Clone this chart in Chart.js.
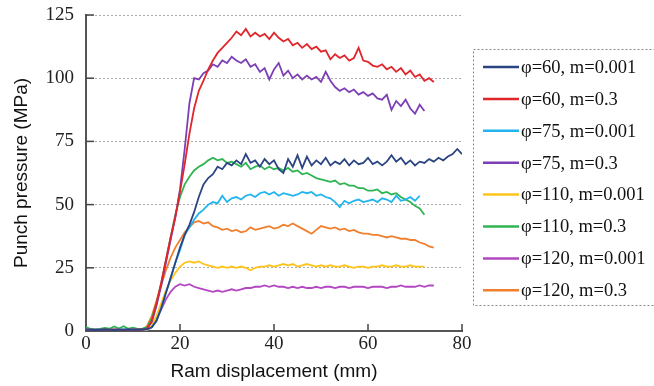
<!DOCTYPE html>
<html>
<head>
<meta charset="utf-8">
<script src="https://cdn.jsdelivr.net/npm/chart.js@4.4.1/dist/chart.umd.min.js"></script>
<style>
  html, body { margin: 0; padding: 0; background: #fff; }
</style>
</head>
<body>
<canvas id="punch" width="654" height="386"></canvas>
<script>
// ram displacement, mm (1 mm steps)
var disp = [];
for (var i = 0; i <= 80; i++) disp.push(i);

var labels = ["φ=60, m=0.001", "φ=60, m=0.3", "φ=75, m=0.001", "φ=75, m=0.3",
  "φ=110, m=0.001", "φ=110, m=0.3", "φ=120, m=0.001", "φ=120, m=0.3"];
var colors = ["#2b4582", "#e0262b", "#22b4ee", "#7d3fb5",
  "#ffc41a", "#2fb552", "#b347c2", "#f0802f"];

// punch pressure, MPa
var p60_0001 = [0.5,0.5,0.4,0.5,0.6,0.5,0.4,0.5,0.5,0.6,0.5,0.5,0.6,0.7,1.5,4,9,15,21,27,
  33,38,42,47,53,58,60.5,62,65,64,66.5,65.5,67.5,66,70,66.5,67.5,65,68,66,
  67.5,64,62.5,68,65,69.5,64.5,69,65.5,67.5,66,68.5,65.5,67,66,68,65.5,67.5,66,66.5,
  68.5,66,67,65.5,67,69.5,67,68.5,66,67.5,65.5,67,66.5,68,67,68.5,67.5,69,70,72,70];
var p60_03 = [0.5,0.5,0.5,0.4,0.5,0.5,0.6,0.5,0.4,0.5,0.5,0.6,0.5,1,4,11,19,28,37,45,
  55,66,78,88,95,99,103.5,107,110,112,114,116,118.5,117,119.5,116.5,118,116.5,117.5,115.5,
  118,116,114.5,115.5,113,114,112,113.5,111.5,112.5,110.5,111,107.5,109.5,108,109,107,108,112,107,
  106.5,105,104.5,105.5,103.5,104.5,102.5,104,101.5,103,100.5,101.5,99,100,98.5];
var p75_0001 = [0.5,0.5,0.5,0.5,0.4,0.5,0.5,0.5,0.6,0.5,0.5,0.5,0.5,0.6,1.5,4,9,15,21,27,
  32,38,41,44,46.5,48,50,51,50.5,53.5,51,52.5,53,52,53.5,54,53,54.5,55,54,
  55,53.5,54.5,54,53.5,54,55,54.5,55,53.5,54,53,52.5,51,49,51.5,50.5,51.5,52,51,
  51.5,52,51,52.5,52,51,53.5,51.5,52,53,51.5,53.5];
var p75_03 = [0.5,0.5,0.5,0.5,0.5,0.4,0.5,0.5,0.5,0.5,0.6,0.5,0.5,1,3.5,10,18,27,36,45,
  56,72,90,100,99.5,102,103,105.5,104.5,107,106,108.5,107,106,107.5,104.5,105.5,102.5,104,99.5,
  103.5,106,101,103,100,101.5,99.5,101,99.5,100.5,98.5,102.5,99,96.5,95,96,94.5,95.5,93.5,94.5,
  93,94,92,91.5,93.5,87.5,91,89,91.5,88,86,89.5,87];
var p110_0001 = [0.3,0.3,0.3,0.3,0.3,0.3,0.3,0.3,0.3,0.3,0.3,0.3,0.3,0.4,2,6,11,16,20,23,
  25.5,27,27.5,27,27.5,26.5,26,25.5,25,25.5,25,25.5,25,25.5,25,24,25,25.5,25.5,26,
  25.5,26,26.5,26,26.5,25.5,26,26.5,26,25.5,26,25.5,26,25.5,25.5,26,25.5,25,25.5,25.5,
  25,25.5,25.5,26,25.5,25.5,26,25.5,25.5,26,25.5,25.5,25.5];
var p110_03 = [1.5,0.8,0.6,0.8,1.2,0.9,1.8,1,1.9,0.9,1.3,0.8,0.9,1.5,5,11,19,28,37,46,
  53,58,61,63.5,65,66,67.5,68.5,67.5,68,66.5,67,66,65,66.5,64,65,65.5,64,65,
  64,64.5,63.5,64.5,63,63.5,62,62.5,61.5,60.5,60,59.5,59,59.5,58,58.5,57.5,57.5,56.5,56.5,
  55.5,55.5,56,54.5,55,54,54.5,53,52,51,49.5,48.5,46];
var p120_0001 = [0.3,0.3,0.3,0.3,0.3,0.3,0.3,0.3,0.3,0.3,0.3,0.3,0.3,0.4,1.5,4.5,8.5,12.5,15.5,17.5,
  18.5,18,18.5,17.5,17,16.5,16,15.5,16,15.5,16,16.5,16,16.5,17,17,17.5,17.5,18,17.5,
  18,17.5,17.5,17,17.5,17,17.5,17,17,17.5,17,17.5,17.5,17,17.5,17.5,17,17.5,17.5,17.5,
  17,17.5,17.5,17.5,17,17.5,17.5,18,17.5,17.5,17.5,18,17.5,18,18];
var p120_03 = [0.3,0.3,0.3,0.3,0.3,0.3,0.3,0.3,0.3,0.3,0.3,0.3,0.4,2,6,12,18,24,29,33,
  36,39,41,43,43.5,42.5,43,41.5,41,40,40.5,39.5,40,39,39.5,41,40,40.5,41,41.5,
  40.5,41,42,41.5,42.5,41.5,40.5,39.5,38.5,40,41.5,41,40.5,41,40,40.5,39.5,40,39,38.5,
  38.5,38,38,37.5,37,37.5,37,36.5,36.5,36,36,35,34.5,33.5,33];

var series = [p60_0001, p60_03, p75_0001, p75_03, p110_0001, p110_03, p120_0001, p120_03];

var yTicks = [25, 50, 75, 100, 125];
var xTicks = [20, 40, 60, 80];

var datasets = series.map(function (ys, k) {
  return {
    label: labels[k],
    data: ys.map(function (v, j) { return { x: disp[j], y: v }; }),
    borderColor: colors[k],
    backgroundColor: colors[k],
    borderWidth: 1.8,
    pointRadius: 0,
    tension: 0,
    fill: false
  };
});

// inward tick marks and the dashed legend box
var extras = {
  id: "extras",
  afterDraw: function (chart) {
    var ctx = chart.ctx, a = chart.chartArea;
    var xs = chart.scales.x, ys = chart.scales.y;
    ctx.save();
    ctx.strokeStyle = "#444";
    ctx.lineWidth = 1.5;
    yTicks.forEach(function (v) {
      var y = ys.getPixelForValue(v);
      ctx.beginPath(); ctx.moveTo(a.left, y); ctx.lineTo(a.left + 8, y); ctx.stroke();
    });
    xTicks.forEach(function (v) {
      var x = xs.getPixelForValue(v);
      ctx.beginPath(); ctx.moveTo(x, a.bottom); ctx.lineTo(x, a.bottom - 7); ctx.stroke();
    });

    ctx.strokeStyle = "#888";
    ctx.lineWidth = 1;
    ctx.setLineDash([2, 2]);
    ctx.strokeRect(473.5, 49.5, 200, 256);
    ctx.setLineDash([]);

    ctx.font = "18.5px 'Liberation Serif'";
    ctx.textBaseline = "middle";
    ctx.fillStyle = "#111";
    chart.data.datasets.forEach(function (ds, k) {
      var y = 67 + k * 31.9;
      ctx.strokeStyle = ds.borderColor;
      ctx.lineWidth = 2.5;
      ctx.beginPath(); ctx.moveTo(483, y); ctx.lineTo(519, y); ctx.stroke();
      ctx.fillText(ds.label, 521, y + 1);
    });
    ctx.restore();
  }
};

new Chart(document.getElementById("punch"), {
  type: "line",
  data: { datasets: datasets },
  plugins: [extras],
  options: {
    responsive: false,
    animation: false,
    layout: { padding: { left: 0, top: 15, right: 192, bottom: 0 } },
    plugins: { legend: { display: false }, tooltip: { enabled: false } },
    scales: {
      x: {
        type: "linear",
        min: 0, max: 80,
        afterFit: function (s) { s.height = 55; s.paddingLeft = 0; s.paddingRight = 0; },
        grid: { display: false, drawTicks: false },
        border: { display: true, color: "#555", width: 2 },
        ticks: { stepSize: 20, padding: 2, color: "#222",
          font: { family: "'Liberation Serif'", size: 19 } },
        title: { display: true, text: "Ram displacement (mm)", color: "#111",
          padding: { top: 0, bottom: 3 },
          font: { family: "'Liberation Sans'", size: 19 } }
      },
      y: {
        min: 0, max: 125,
        afterFit: function (s) { s.width = 86; s.paddingTop = 0; s.paddingBottom = 0; },
        grid: { color: "#aaa", lineWidth: 1, drawTicks: false },
        border: { display: true, color: "#555", width: 2, dash: [2, 2] },
        ticks: { stepSize: 25, padding: 12, color: "#222",
          font: { family: "'Liberation Serif'", size: 19 } },
        title: { display: true, text: "Punch pressure (MPa)", color: "#111",
          padding: { top: 10, bottom: 0 },
          font: { family: "'Liberation Sans'", size: 19 } }
      }
    }
  }
});
</script>
</body>
</html>
